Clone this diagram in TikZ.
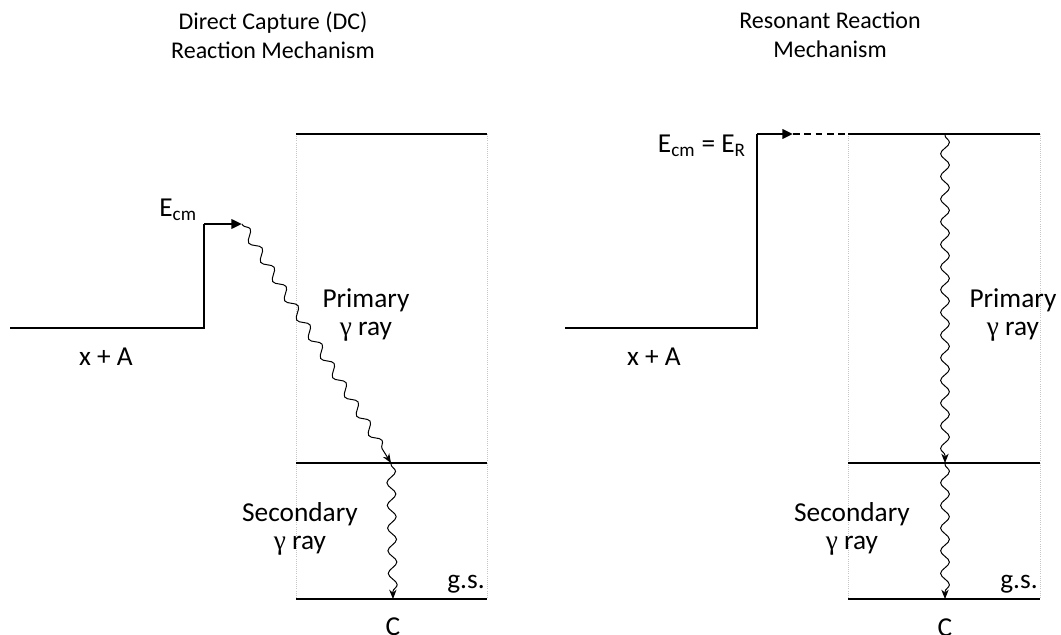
\documentclass[tikz,border=0pt]{standalone}
\usepackage{fontspec}
\setmainfont{Carlito}
\newfontfamily\gfont{Liberation Serif}
\usetikzlibrary{decorations.pathmorphing,arrows.meta}
\tikzset{
 lev/.style={line width=1.9pt},
 guide/.style={gray!45, densely dotted, line width=0.6pt},
 photon/.style={decorate, decoration={snake, amplitude=3.3pt, segment length=17pt, pre length=1pt, post length=5pt}, line width=0.75pt, -{Stealth[length=7pt,width=5.5pt]}},
 lbl/.style={font=\fontsize{20.5}{21}\selectfont, inner sep=0pt, align=center},
 ttl/.style={font=\fontsize{18}{22}\selectfont, inner sep=0pt, align=center},
 feed/.style={line width=1.9pt, -{Triangle[length=8pt,width=7pt]}},
}
\newcommand{\gam}{{\gfont γ}}
\begin{document}
\begin{tikzpicture}[x=0.75pt,y=-0.75pt]
\useasboundingbox (0,0) rectangle (1061,635);
% ===== Left diagram =====
\node[ttl] (t1) at (273,35) {Direct Capture (DC)\\Reaction Mechanism};
\coordinate (l0) at (10,328);
\coordinate (l1) at (204,328);
\coordinate (l2) at (204,224);
\coordinate (l3) at (242,224);
\draw[lev] (l0) -- (l1) -- (l2);
\draw[feed] (l2) -- (l3);
\node[lbl, anchor=east] (ecm1) at (197,210) {E\textsubscript{cm}};
\node[lbl] (xa1) at (106,357) {x + A};
\coordinate (a1) at (296,134); \coordinate (b1) at (487,134);
\coordinate (a2) at (296,463); \coordinate (b2) at (487,463);
\coordinate (a3) at (296,599); \coordinate (b3) at (487,599);
\draw[guide] (a1) -- (a3);
\draw[guide] (b1) -- (b3);
\draw[lev] (a1) -- (b1);
\draw[lev] (a2) -- (b2);
\draw[lev] (a3) -- (b3);
\coordinate (p1) at (391,463);
\coordinate (p2) at (393,599);
\draw[photon] (l3) -- (p1);
\draw[photon] (p1) -- (p2);
\node[lbl] (prim1) at (366,315) {Primary\\\gam\ ray};
\node[lbl] (sec1) at (300,529) {Secondary\\\gam\ ray};
\node[lbl] (gs1) at (466,584) {g.s.};
\node[lbl] (c1) at (393,627) {C};
% ===== Right diagram =====
\node[ttl] (t2) at (830,35) {Resonant Reaction\\Mechanism};
\coordinate (r0) at (565,328);
\coordinate (r1) at (757,328);
\coordinate (r2) at (757,134);
\coordinate (r3) at (793,134);
\coordinate (a4) at (848,134); \coordinate (b4) at (1040,134);
\coordinate (a5) at (848,463); \coordinate (b5) at (1040,463);
\coordinate (a6) at (848,599); \coordinate (b6) at (1040,599);
\draw[lev] (r0) -- (r1) -- (r2);
\draw[feed] (r2) -- (r3);
\draw[line width=1.9pt, dashed, dash pattern=on 5pt off 3.5pt] (r3) -- (a4);
\node[lbl, anchor=east] (ecm2) at (746,146) {E\textsubscript{cm} = E\textsubscript{R}};
\node[lbl] (xa2) at (654,357) {x + A};
\draw[guide] (a4) -- (a6);
\draw[guide] (b4) -- (b6);
\draw[lev] (a4) -- (b4);
\draw[lev] (a5) -- (b5);
\draw[lev] (a6) -- (b6);
\coordinate (q0) at (945,134);
\coordinate (q1) at (945,463);
\coordinate (q2) at (945,599);
\draw[photon] (q0) -- (q1);
\draw[photon] (q1) -- (q2);
\node[lbl] (prim2) at (1013,315) {Primary\\\gam\ ray};
\node[lbl] (sec2) at (852,529) {Secondary\\\gam\ ray};
\node[lbl] (gs2) at (1019,584) {g.s.};
\node[lbl] (c2) at (945,628) {C};
\end{tikzpicture}
\end{document}
